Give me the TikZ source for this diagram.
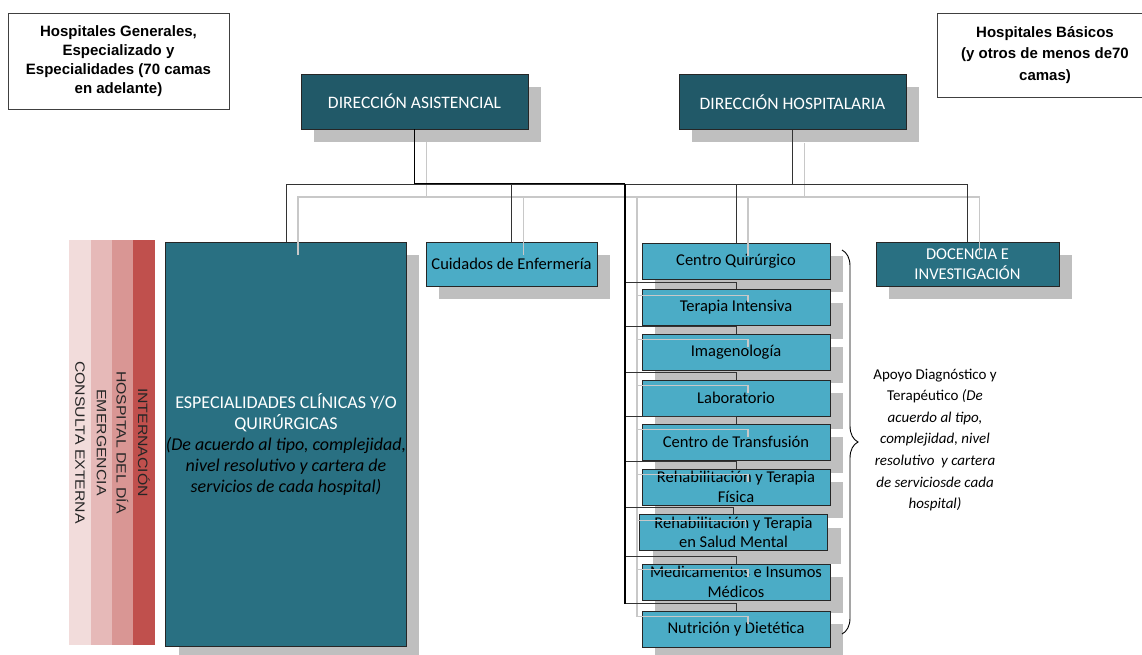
\documentclass[tikz,border=0pt]{standalone}
\usepackage{fontspec}
\setmainfont{Carlito}
\newfontfamily\arialfont{Liberation Sans}
\newfontfamily\stripefont[FakeStretch=1.17]{Liberation Sans}
\usetikzlibrary{shadows,decorations.pathreplacing}

\definecolor{dirteal}{RGB}{33,89,104}
\definecolor{midteal}{RGB}{41,112,130}
\definecolor{aqua}{RGB}{75,172,198}
\definecolor{shade}{RGB}{191,191,191}
\definecolor{ghostline}{RGB}{200,200,200}
\definecolor{rosaA}{RGB}{242,220,219}
\definecolor{rosaB}{RGB}{230,185,184}
\definecolor{rosaC}{RGB}{217,150,148}
\definecolor{rosaD}{RGB}{192,80,77}

\newcommand{\remark}[1]{\textcolor{black}{\itshape #1}}

\begin{document}
\begin{tikzpicture}[x=1pt, y=-1pt,
		hdrbox/.style={draw=black!75, line width=0.9pt, fill=white, inner sep=0pt, align=center},
		unitbox/.style={draw=black!85, line width=0.9pt, inner sep=0pt, align=center,
			drop shadow={shadow xshift=13pt, shadow yshift=-13pt, fill=shade, opacity=1, draw=none}},
		dirbox/.style={unitbox, fill=dirteal, text=white, minimum width=227pt, minimum height=55pt, font=\fontsize{17.5}{21}\selectfont},
		apoyobox/.style={unitbox, fill=aqua, minimum width=188pt, minimum height=36pt, font=\fontsize{16.5}{19.5}\selectfont},
		stripe/.style={rotate=-90, minimum width=405pt, minimum height=21.5pt, inner sep=0pt, text=black!85, font=\stripefont\fontsize{13.5}{16}\selectfont},
		link/.style={black!80, line width=0.9pt},
		heavy/.style={black, line width=1.8pt},
		ghost/.style={ghostline, line width=1.1pt}]
	\useasboundingbox (0,0) rectangle (1142,655);
	
	%headers
	\node[hdrbox, minimum width=221pt, minimum height=96pt, font=\arialfont\bfseries\fontsize{15}{19}\selectfont] (generales) at (118.5,61) {Hospitales Generales,\\Especializado y\\Especialidades (70 camas\\en adelante)};
	\node[hdrbox, minimum width=216pt, minimum height=84pt, font=\arialfont\bfseries\fontsize{15}{21.5}\selectfont] (basicos) at (1045,55) {Hospitales Básicos\\(y otros de menos de70\\camas)};
	
	%direcciones
	\node[dirbox] (asist) at (414.5,101.5) {DIRECCIÓN ASISTENCIAL};
	\node[dirbox] (hosp) at (792.5,102) {DIRECCIÓN HOSPITALARIA};
	\coordinate (bus) at (625,184);
	
	%services
	\node[stripe, fill=rosaA] (consulta) at (80,442.5) {CONSULTA EXTERNA};
	\node[stripe, fill=rosaB] (emergencia) at (101.5,442.5) {EMERGENCIA};
	\node[stripe, fill=rosaC] (hdia) at (122.5,442.5) {HOSPITAL DEL DÍA};
	\node[stripe, fill=rosaD] (internacion) at (144,442.5) {INTERNACIÓN};
	
	\node[unitbox, fill=midteal, text=white, minimum width=234pt, minimum height=404pt, font=\fontsize{18}{21}\selectfont] (espec) at (286,444) {ESPECIALIDADES CLÍNICAS Y/O\\QUIRÚRGICAS\\\remark{(De acuerdo al tipo, complejidad,}\\\remark{nivel resolutivo y cartera de}\\\remark{servicios de cada hospital)}};
	\node[unitbox, fill=aqua, minimum width=171pt, minimum height=44pt, font=\fontsize{16.5}{19.5}\selectfont] (cuid) at (511.5,264) {Cuidados de Enfermería};
	\node[unitbox, fill=midteal, text=white, minimum width=183pt, minimum height=44pt, font=\fontsize{16.5}{19.5}\selectfont] (docen) at (967.5,264) {DOCENCIA E\\INVESTIGACIÓN};
	
	%apoyo column
	\foreach \i/\x/\y/\txt in {1/736/261/{Centro Quirúrgico}, 2/736/307.5/{Terapia Intensiva}, 3/736/352/{Imagenología}, 4/736/398/{Laboratorio}, 5/736/442/{Centro de Transfusión}, 6/736/487/{Rehabilitación y Terapia\\Física}, 7/733.5/532.5/{Rehabilitación y Terapia\\en Salud Mental}, 8/736/582/{Medicamentos e Insumos\\Médicos}, 9/736/629/{Nutrición y Dietética}}{
		\node[apoyobox] (r\i) at (\x,\y) {\txt};
	}
	
	%shadow lines
	\foreach \n in {asist,hosp}
		\draw[ghost] ([shift={(12,13)}]\n.south) |- ([shift={(12,13)}]bus);
	\foreach \n in {espec,cuid,docen,r1}
		\draw[ghost] ([shift={(12,13)}]\n.north) |- ([shift={(12,13)}]bus);
	\foreach \i in {2,...,9}
		\draw[ghost] ([shift={(12,13)}]r\i.north) -- ++(0,-7) -| ([shift={(12,13)}]bus);
	
	%lines
	\draw[heavy] (asist.south) |- (bus);
	\draw[link] (hosp.south) |- (bus);
	\foreach \n in {espec,cuid,docen,r1}
		\draw[link] (\n.north) |- (bus);
	\foreach \i in {2,...,9}
		\draw[link] (r\i.north) -- ++(0,-7) -| (bus);
	\draw[heavy] (bus) -- ([yshift=7pt]r9.north -| bus);
	
	%brace
	\coordinate (bracetop) at (842,250);
	\coordinate (bracebot) at (842,634);
	\draw[decorate, decoration={brace, amplitude=16pt}, line width=0.9pt] (bracetop) -- (bracebot);
	\node[font=\fontsize{15}{21.6}\selectfont, align=center] (apoyo) at (935,440) {Apoyo Diagnóstico y\\Terapéutico \textit{(De}\\\textit{acuerdo al tipo,}\\\textit{complejidad, nivel}\\\textit{resolutivo~ y cartera}\\\textit{de serviciosde cada}\\\textit{hospital)}};
\end{tikzpicture}
\end{document}
